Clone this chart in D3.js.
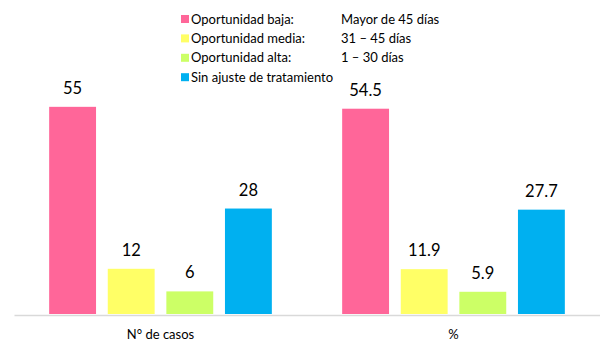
<!DOCTYPE html>
<html>
<head>
<meta charset="utf-8">
<script src="https://cdn.jsdelivr.net/npm/d3@7/dist/d3.min.js"></script>
<style>
  html, body { margin: 0; padding: 0; background: #fff; }
  svg { display: block; font-family: Lato, "Open Sans", sans-serif; }
</style>
</head>
<body>
<svg id="chart" width="600" height="343"></svg>
<script>
// Grupos del eje X
const categories = ["N° de casos", "%"];
// Series (oportunidad de ajuste de tratamiento)
const seriesNames = ["Oportunidad baja:", "Oportunidad media:", "Oportunidad alta:", "Sin ajuste de tratamiento"];
const seriesRanges = ["Mayor de 45 días", "31 – 45 días", "1 – 30 días", ""];
const seriesColors = ["#FF6699", "#FFFF66", "#CCFF66", "#00B0F0"];
// Valores por grupo
const casos = [55, 12, 6, 28];
const porcentaje = [54.5, 11.9, 5.9, 27.7];
const valueLabels = [["55", "12", "6", "28"], ["54.5", "11.9", "5.9", "27.7"]];

const data = [casos, porcentaje];

const svg = d3.select("#chart");

const x0 = d3.scaleBand().domain(categories).range([14, 600]).paddingInner(0).paddingOuter(0);
const x1 = d3.scaleBand().domain(d3.range(seriesNames.length))
  .range([0, x0.bandwidth()]).paddingInner(0.2).paddingOuter(0.6);
const y = d3.scaleLinear().domain([0, 60]).range([314, 88]);

// Barras
const groups = svg.selectAll("g.grupo")
  .data(categories)
  .join("g")
  .attr("class", "grupo")
  .attr("transform", c => `translate(${x0(c)},0)`);

groups.selectAll("rect")
  .data((c, gi) => data[gi].map((v, i) => ({ v, i, gi })))
  .join("rect")
  .attr("x", d => x1(d.i))
  .attr("width", x1.bandwidth())
  .attr("y", d => y(d.v))
  .attr("height", d => y(0) - y(d.v))
  .attr("fill", d => seriesColors[d.i]);

// Etiquetas de valor
groups.selectAll("text.valor")
  .data((c, gi) => data[gi].map((v, i) => ({ v, i, gi })))
  .join("text")
  .attr("class", "valor")
  .attr("x", d => x1(d.i) + x1.bandwidth() / 2)
  .attr("y", d => y(d.v) - 13)
  .attr("text-anchor", "middle")
  .attr("font-size", 16.5)
  .attr("fill", "#000")
  .text(d => valueLabels[d.gi][d.i]);

// Eje X
const xAxis = d3.axisBottom(x0).tickSize(0).tickPadding(0);
const gx = svg.append("g").attr("transform", `translate(0,${y(0) + 1})`).call(xAxis);
gx.select(".domain").attr("stroke", "#D9D9D9").attr("stroke-width", 1.5);
gx.selectAll(".tick text")
  .attr("font-family", "Lato, 'Open Sans', sans-serif")
  .attr("font-size", 13)
  .attr("fill", "#000")
  .attr("dy", null)
  .attr("y", 24);

// Leyenda
const legend = svg.append("g");
const rows = legend.selectAll("g")
  .data(seriesNames)
  .join("g")
  .attr("transform", (d, i) => `translate(181,${15 + i * 19.4})`);
rows.append("rect").attr("width", 8).attr("height", 8).attr("fill", (d, i) => seriesColors[i]);
rows.append("text")
  .attr("x", 10).attr("y", 8.5)
  .attr("font-size", 13).attr("fill", "#000")
  .text(d => d);
rows.append("text")
  .attr("x", 160).attr("y", 8.5)
  .attr("font-size", 13).attr("fill", "#000")
  .text((d, i) => seriesRanges[i]);
</script>
</body>
</html>
